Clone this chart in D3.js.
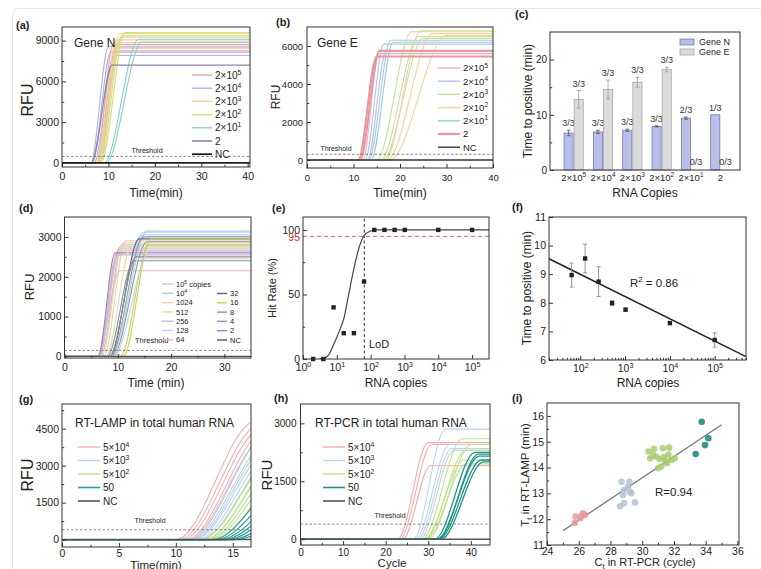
<!DOCTYPE html>
<html>
<head>
<meta charset="utf-8">
<script src="https://cdn.jsdelivr.net/npm/d3@7"></script>
<style>
body { margin: 0; background: #fff; }
svg { display: block; font-family: "Liberation Sans", Arial, sans-serif; }
</style>
</head>
<body>
<div class="vis-holder"></div>
<script>
// ---- data ----
// amplification curves: [group, onset time, time plateau is reached, plateau RFU]
var aLabels = ['2×10^5', '2×10^4', '2×10^3', '2×10^2', '2×10^1', '2', 'NC'];
var aCurves = [
  [0, 7.4, 11.0, 8700], [0, 7.7, 11.5, 8450], [0, 8.0, 12.0, 8250],
  [1, 6.2, 10.0, 8550], [1, 6.5, 10.5, 8150], [1, 6.9, 11.2, 7900],
  [2, 7.3, 11.8, 9050], [2, 7.6, 12.2, 8850], [2, 7.9, 12.6, 9250],
  [3, 7.7, 12.4, 9500], [3, 8.1, 13.0, 9350], [3, 8.4, 13.6, 9600],
  [4, 9.1, 16.5, 9100], [4, 9.5, 17.2, 8900],
  [5, 6.3, 10.8, 7200]
];
var aThreshold = 480;

var bLabels = ['2×10^5', '2×10^4', '2×10^3', '2×10^2', '2×10^1', '2', 'NC'];
var bCurves = [
  [0, 12.0, 15.5, 5600],
  [1, 12.5, 16.5, 6100], [1, 13.0, 17.0, 5700], [1, 13.3, 18.0, 6300],
  [4, 13.8, 18.5, 6200],
  [2, 15.0, 22.5, 6750], [2, 15.8, 24.0, 6500], [2, 16.3, 25.0, 6400],
  [3, 16.8, 24.5, 6800], [3, 17.3, 27.0, 6650], [3, 17.8, 30.0, 6550],
  [5, 11.0, 15.0, 5450], [5, 11.4, 15.6, 5750]
];
var bThreshold = 300;

var cCopies = ['2×10^5', '2×10^4', '2×10^3', '2×10^2', '2×10^1', '2'];
var cGeneN = [6.7, 6.9, 7.2, 7.9, 9.4, 10.0];
var cGeneNErr = [0.5, 0.3, 0.2, 0.1, 0.2, 0];
var cGeneE = [12.8, 14.6, 15.9, 18.2, 0, 0];
var cGeneEErr = [1.6, 1.7, 0.9, 0.4, 0, 0];
var cHitN = ['3/3', '3/3', '3/3', '3/3', '2/3', '1/3'];
var cHitE = ['3/3', '3/3', '3/3', '3/3', '0/3', '0/3'];

var dLabels = ['10^5 copies', '10^4', '1024', '512', '256', '128', '64', '32', '16', '8', '4', '2', 'NC'];
var dCurves = [
  [6, 6.2, 10.0, 2650], [6, 6.4, 10.5, 2750], [6, 6.1, 10.4, 2150],
  [0, 6.5, 10.2, 2700], [1, 6.8, 10.8, 2800], [2, 7.0, 11.0, 2850], [2, 7.4, 11.5, 2900],
  [4, 6.6, 9.8, 2550], [11, 6.3, 9.5, 2600],
  [3, 7.8, 12.5, 2750], [5, 8.3, 14.5, 3050], [5, 8.6, 15.0, 3120], [1, 8.8, 15.5, 3150],
  [7, 8.5, 14.0, 2950], [9, 8.7, 14.8, 3000], [9, 9.0, 15.5, 2880],
  [8, 10.5, 15.8, 2800], [8, 11.0, 16.2, 2950],
  [10, 8.0, 13.0, 2400], [10, 8.4, 13.5, 2500], [3, 9.0, 14.0, 2450], [5, 9.2, 16.0, 2650]
];
var dThreshold = 150;

var eCopies = [2, 4, 8, 16, 32, 64, 128, 256, 512, 1024, 10000, 100000];
var eHitRate = [0, 0, 40, 20, 20, 60, 100, 100, 100, 100, 100, 100];
var eFitCopies = [3, 4, 5.7, 8, 12, 16, 22, 32, 45, 64, 100, 150, 400000];
var eFitRate = [0, 0.5, 3, 11, 22, 31, 49, 70, 86, 95.5, 99.2, 100, 100];
var eLoD = 65;
var eCutoff = 95;

var fCopies = [64, 128, 256, 512, 1024, 10000, 100000];
var fTime = [8.97, 9.55, 8.74, 7.99, 7.76, 7.29, 6.70];
var fErr = [0.42, 0.5, 0.52, 0.08, 0.05, 0.05, 0.25];
var fFitCopies = [20, 500000];
var fFitTime = [9.54, 6.12];

var gLabels = ['5×10^4', '5×10^3', '5×10^2', '50', 'NC'];
var gCurves = [
  [0, 10.0, 17.0, 4800], [0, 10.3, 17.4, 4650], [0, 10.6, 17.6, 4500], [0, 10.9, 18.0, 4450], [0, 11.2, 18.2, 4300],
  [1, 11.0, 18.2, 4300], [1, 11.3, 18.5, 4100], [1, 11.6, 18.8, 3900], [1, 11.9, 19.0, 3800], [1, 12.1, 19.3, 3700], [1, 11.5, 18.6, 4000],
  [2, 12.2, 19.2, 3600], [2, 12.5, 19.5, 3400], [2, 12.8, 19.8, 3300], [2, 13.0, 20.0, 3100], [2, 12.6, 19.4, 3450], [2, 13.3, 20.5, 3000],
  [3, 13.2, 20.5, 2800], [3, 13.5, 21.0, 2600], [3, 13.8, 21.5, 2400], [3, 14.1, 22.0, 2300], [3, 14.4, 22.5, 2200], [3, 14.8, 23.0, 2000], [3, 15.2, 23.5, 1800]
];
var gThreshold = 400;

var hLabels = ['5×10^4', '5×10^3', '5×10^2', '50', 'NC'];
var hCurves = [
  [0, 22.8, 30.0, 2500], [0, 23.3, 30.8, 2450], [0, 24.0, 30.5, 1900],
  [1, 26.5, 34.0, 2850], [1, 27.0, 35.0, 2450], [1, 27.5, 35.5, 2350], [1, 28.0, 36.0, 2300],
  [2, 28.5, 38.0, 2600], [2, 29.0, 38.5, 2050], [2, 29.5, 39.0, 1950], [2, 30.0, 40.0, 2450], [2, 29.3, 38.8, 2300],
  [3, 31.5, 41.0, 2250], [3, 32.0, 42.0, 2150], [3, 32.5, 42.5, 2050], [3, 33.0, 43.0, 2000], [3, 32.3, 41.8, 2200]
];
var hThreshold = 390;

var iLabels = ['5×10^4', '5×10^3', '5×10^2', '50'];
// [group, Ct in RT-PCR, Tt in RT-LAMP]
var iPoints = [
  [0, 25.8, 12.1], [0, 26.27, 12.23], [0, 26.4, 12.17], [0, 25.75, 11.85], [0, 26.1, 12.04], [0, 26.2, 12.15],
  [1, 28.7, 13.45], [1, 29.2, 13.45], [1, 29.1, 13.26], [1, 29.25, 13.06], [1, 28.8, 12.94], [1, 28.85, 13.13],
  [1, 28.6, 12.5], [1, 28.86, 12.62], [1, 29.55, 12.65], [1, 29.3, 13.0],
  [2, 30.4, 14.62], [2, 30.75, 14.72], [2, 31.3, 14.75], [2, 31.7, 14.77], [2, 30.5, 14.36], [2, 30.9, 14.42],
  [2, 31.1, 14.33], [2, 31.45, 14.26], [2, 31.55, 14.17], [2, 31.2, 14.04], [2, 31.0, 13.97], [2, 31.85, 14.29],
  [2, 32.05, 14.36], [2, 31.65, 14.5], [2, 30.7, 14.48], [2, 31.35, 14.4],
  [3, 33.75, 15.77], [3, 34.17, 15.13], [3, 33.96, 14.87], [3, 33.37, 14.52]
];
var iFitCt = [25, 35];
var iFitTt = [11.55, 15.66];

// ---- colours ----
var aColors = ['#eaa5a5', '#b6b2e0', '#f3cba4', '#d5dc7e', '#85d2c7', '#8d86a6', '#222'];
var bColors = ['#e7b3c4', '#b3c5ec', '#c6df9c', '#efd49c', '#8fd6cd', '#e9959a', '#333'];
var dColors = ['#c9c4cf', '#b7c6db', '#f1cfae', '#d8e3a4', '#c5b8e3', '#b5d3ea', '#f0b5b5',
               '#6f5c66', '#c9cf58', '#7d98bf', '#8c8ca3', '#a67fb3', '#555'];
var gColors = ['#f2b0b0', '#b9d3ea', '#b9e08f', '#2a9d94', '#555'];
var hColors = ['#f2aaaa', '#bcd5ea', '#c3e08f', '#1f9488', '#555'];
var iColors = ['#e59a9a', '#b4c2d2', '#a9cc72', '#13877c'];

var width = 761, height = 569;
var FONT = '"Liberation Sans", Arial, sans-serif';

var svg = d3.select('div.vis-holder')
            .append('svg')
            .attr('width', width)
            .attr('height', height)
            .style('background', '#fff');

svg.append('rect')
   .attr('x', 12.5).attr('y', 8.5).attr('width', 800).attr('height', 600).attr('rx', 6)
   .attr('fill', 'none').attr('stroke', '#e4e4e4');

// text with "^" superscript, e.g. 2×10^5
function sup(sel, str, fs) {
  var parts = String(str).split('^');
  sel.text(null);
  sel.append('tspan').text(parts[0]);
  if (parts.length > 1) {
    var m = parts[1].match(/^(\d+)(.*)$/);
    sel.append('tspan').attr('dy', -fs * 0.4).attr('font-size', fs * 0.68).text(m[1]);
    if (m[2]) sel.append('tspan').attr('dy', fs * 0.4).text(m[2]);
  }
  return sel;
}

function frame(x, y, o) {
  var g = svg.append('g');
  var x0 = x.range()[0], x1 = x.range()[1], y0 = y.range()[0], y1 = y.range()[1];
  if (o.xMinor) g.append('g').attr('transform', `translate(0,${y0})`)
                 .call(d3.axisBottom(x).tickValues(o.xMinor).tickSize(-2.2).tickFormat(''));
  if (o.yMinor) g.append('g').attr('transform', `translate(${x0},0)`)
                 .call(d3.axisLeft(y).tickValues(o.yMinor).tickSize(-2.2).tickFormat(''));
  if (o.xTicks) g.append('g').attr('transform', `translate(0,${y0})`)
                 .call(d3.axisBottom(x).tickValues(o.xTicks).tickSize(-4).tickPadding(o.xPad || 5)
                       .tickFormat(o.xFormat || (d => d)));
  g.append('g').attr('transform', `translate(${x0},0)`)
   .call(d3.axisLeft(y).tickValues(o.yTicks).tickSize(-4).tickPadding(o.yPad || 3)
         .tickFormat(o.yFormat || (d => d)));
  g.selectAll('.domain').remove();
  g.selectAll('.tick line').attr('stroke', '#333');
  g.selectAll('g').attr('font-family', FONT).attr('font-size', o.fs);
  g.selectAll('.tick text').attr('fill', '#222').each(function() {
    var t = d3.select(this).text();
    if (t.indexOf('^') >= 0) sup(d3.select(this), t, o.fs);
  });
  g.append('rect').attr('x', x0).attr('y', y1).attr('width', x1 - x0).attr('height', y0 - y1)
   .attr('fill', 'none').attr('stroke', '#333').attr('stroke-width', 1);
  return g;
}

function clipGroup(id, x, y) {
  svg.append('clipPath').attr('id', id).append('rect')
     .attr('x', x.range()[0]).attr('y', y.range()[1])
     .attr('width', x.range()[1] - x.range()[0]).attr('height', y.range()[0] - y.range()[1]);
  return svg.append('g').attr('clip-path', `url(#${id})`);
}

function panelLabel(t, x, y) {
  svg.append('text').attr('x', x).attr('y', y).attr('font-size', 11).attr('font-weight', 'bold')
     .attr('fill', '#222').text(t);
}
function yLabel(t, x, y, fs) {
  return svg.append('text').attr('transform', `translate(${x},${y})rotate(-90)`)
            .attr('text-anchor', 'middle').attr('dy', '0.35em')
            .attr('font-size', fs).attr('fill', '#222').text(t);
}
function xLabel(t, x, y, fs) {
  return svg.append('text').attr('x', x).attr('y', y).attr('text-anchor', 'middle')
            .attr('font-size', fs).attr('fill', '#222').text(t);
}
function note(t, x, y, fs, anchor) {
  return svg.append('text').attr('x', x).attr('y', y).attr('text-anchor', anchor || 'start')
            .attr('font-size', fs).attr('fill', '#222').text(t);
}

function ampCurves(id, x, y, curves, colors, widths, threshold, ncWidth) {
  var g = clipGroup(id, x, y);
  var xmax = x.domain()[1];
  var line = d3.line().x(d => x(d[0])).y(d => y(d[1])).curve(d3.curveMonotoneX);
  g.selectAll('path.amp')
   .data(curves)
   .enter()
   .append('path')
   .attr('class', 'amp')
   .attr('fill', 'none')
   .attr('stroke', d => colors[d[0]])
   .attr('stroke-width', d => widths[d[0]] || 1.1)
   .attr('d', d => line([[0, 0], [d[1], 0], [d[2], d[3]], [Math.max(xmax, d[2]) + 2, d[3]]]));
  g.append('path').attr('d', line([[0, 0], [xmax, 0]]))
   .attr('fill', 'none').attr('stroke', colors[colors.length - 1]).attr('stroke-width', ncWidth);
  g.append('line')
   .attr('x1', x(0)).attr('x2', x(xmax)).attr('y1', y(threshold)).attr('y2', y(threshold))
   .attr('stroke', '#555').attr('stroke-width', 0.7).attr('stroke-dasharray', '2.5,2');
  return g;
}

function legend(labels, colors, widths, x, y, dy, len, fs) {
  labels.forEach(function(l, i) {
    var yy = y + i * dy;
    svg.append('line').attr('x1', x).attr('x2', x + len).attr('y1', yy).attr('y2', yy)
       .attr('stroke', colors[i]).attr('stroke-width', widths[i] || 1.4);
    var t = svg.append('text').attr('x', x + len + 3).attr('y', yy).attr('dy', '0.35em')
               .attr('font-size', fs).attr('fill', '#222');
    sup(t, l, fs);
  });
}

// ---------- (a) ----------
var ax = d3.scaleLinear().domain([0, 40.5]).range([62, 250]);
var ay = d3.scaleLinear().domain([-300, 10000]).range([167, 27]);
ampCurves('clipA', ax, ay, aCurves, aColors, {5: 1.3}, aThreshold, 1.8);
frame(ax, ay, {xTicks: [0, 10, 20, 30, 40], xMinor: [5, 15, 25, 35],
               yTicks: [0, 3000, 6000, 9000], yMinor: [1500, 4500, 7500], fs: 10.5, xPad: 6});
panelLabel('(a)', 16, 29);
yLabel('RFU', 27, 100, 16);
xLabel('Time(min)', 156, 197, 12);
note('Gene N', 74, 47, 12);
note('Threshold', 147, 153, 7, 'middle');
legend(aLabels, aColors, {5: 1.6, 6: 1.8}, 192, 75, 13.2, 20, 10);

// ---------- (b) ----------
var bx = d3.scaleLinear().domain([0, 40]).range([307, 493]);
var by = d3.scaleLinear().domain([-420, 7000]).range([168, 27]);
ampCurves('clipB', bx, by, bCurves, bColors, {5: 1.9}, bThreshold, 1.4);
frame(bx, by, {xTicks: [0, 10, 20, 30, 40], xMinor: [5, 15, 25, 35],
               yTicks: [0, 2000, 4000, 6000], yMinor: [1000, 3000, 5000], fs: 9.5, xPad: 6, yPad: 4});
panelLabel('(b)', 276, 26);
yLabel('RFU', 276, 97, 12);
xLabel('Time(min)', 400, 197, 12);
note('Gene E', 317, 47, 12);
note('Threshold', 336, 151, 7, 'middle');
legend(bLabels, bColors, {5: 2.2, 6: 1.4}, 438, 68, 13.2, 22, 9.5);

// ---------- (c) ----------
var cx = d3.scaleBand().domain(cCopies).range([559, 735]);
var cSub = d3.scaleBand().domain(['Gene N', 'Gene E']).range([0, cx.bandwidth()])
             .paddingInner(0.1).paddingOuter(0.5);
var cy = d3.scaleLinear().domain([0, 25]).range([170, 32]);
var cFrameX = d3.scaleLinear().range([550, 740]);
var cRows = cCopies.map(function(c, i) {
  return {c: c, n: cGeneN[i], nErr: cGeneNErr[i], e: cGeneE[i], eErr: cGeneEErr[i], hn: cHitN[i], he: cHitE[i]};
});
var cSeries = [
  {key: 'Gene N', v: 'n', err: 'nErr', hit: 'hn', fill: '#b9bfe9', stroke: '#6f78b8', ebar: '#555'},
  {key: 'Gene E', v: 'e', err: 'eErr', hit: 'he', fill: '#dcdcdc', stroke: '#a6a6a6', ebar: '#999'}
];
cSeries.forEach(function(s) {
  var g = svg.append('g');
  var bars = cRows.filter(d => d[s.v] > 0);
  g.selectAll('rect').data(bars).enter().append('rect')
   .attr('x', d => cx(d.c) + cSub(s.key))
   .attr('y', d => cy(d[s.v]))
   .attr('width', cSub.bandwidth())
   .attr('height', d => cy(0) - cy(d[s.v]))
   .attr('fill', s.fill).attr('stroke', s.stroke).attr('stroke-width', 0.8);
  var mid = d => cx(d.c) + cSub(s.key) + cSub.bandwidth() / 2;
  g.selectAll('line.eb').data(bars.filter(d => d[s.err] > 0)).enter().append('path')
   .attr('d', d => `M${mid(d)},${cy(d[s.v] - d[s.err])}V${cy(d[s.v] + d[s.err])}` +
                   `M${mid(d) - 2},${cy(d[s.v] + d[s.err])}h4M${mid(d) - 2},${cy(d[s.v] - d[s.err])}h4`)
   .attr('stroke', s.ebar).attr('stroke-width', 0.8).attr('fill', 'none');
  g.selectAll('text').data(cRows).enter().append('text')
   .attr('x', mid)
   .attr('y', d => d[s.v] > 0 ? cy(d[s.v] + d[s.err]) - 4 : cy(0) - 5)
   .attr('text-anchor', 'middle').attr('font-size', 9).attr('fill', '#333')
   .text(d => d[s.hit]);
});
var cAxis = svg.append('g').attr('transform', `translate(0,${cy(0)})`)
               .call(d3.axisBottom(cx).tickSize(0).tickPadding(4));
cAxis.select('.domain').remove();
cAxis.attr('font-family', FONT).attr('font-size', 9.5);
cAxis.selectAll('.tick text').attr('fill', '#222').each(function(d) { sup(d3.select(this), d, 9.5); });
frame(cFrameX, cy, {yTicks: [0, 10, 20], yMinor: [5, 15], fs: 10});
panelLabel('(c)', 515, 18);
yLabel('Time to positive (min)', 528, 101, 12);
xLabel('RNA Copies', 645, 197, 12);
cSeries.forEach(function(s, i) {
  svg.append('rect').attr('x', 680).attr('y', 39 + i * 10).attr('width', 14).attr('height', 6)
     .attr('fill', s.fill).attr('stroke', s.stroke).attr('stroke-width', 0.8);
  note(s.key, 699, 45 + i * 10, 9);
});

// ---------- (d) ----------
var dx = d3.scaleLinear().domain([0, 35]).range([64.5, 251]);
var dy = d3.scaleLinear().domain([-40, 3500]).range([358, 217]);
ampCurves('clipD', dx, dy, dCurves, dColors, {}, dThreshold, 1.4);
frame(dx, dy, {xTicks: [0, 10, 20, 30], xMinor: [5, 15, 25],
               yTicks: [0, 1000, 2000, 3000], yMinor: [500, 1500, 2500], fs: 10.5, xPad: 6});
panelLabel('(d)', 19, 212);
yLabel('RFU', 29, 287, 13);
xLabel('Time (min)', 156, 387, 12);
note('Threshold', 135, 343, 7.5);
legend(dLabels.slice(0, 7), dColors.slice(0, 7), {}, 162, 284, 9.3, 11, 7.5);
legend(dLabels.slice(7), dColors.slice(7), {}, 217, 293.5, 9.3, 10, 7.5);

// ---------- (e) ----------
var ex = d3.scaleLog().domain([1, Math.pow(10, 5.5)]).range([303, 489]);
var ey = d3.scaleLinear().domain([0, 110]).range([359, 217]);
var eg = clipGroup('clipE', ex, ey);
eg.append('line').attr('x1', ex.range()[0]).attr('x2', ex.range()[1])
  .attr('y1', ey(eCutoff)).attr('y2', ey(eCutoff))
  .attr('stroke', '#d06a6a').attr('stroke-width', 1).attr('stroke-dasharray', '4,3');
eg.append('line').attr('x1', ex(eLoD)).attr('x2', ex(eLoD)).attr('y1', ey(0)).attr('y2', ey(110))
  .attr('stroke', '#444').attr('stroke-width', 1.1).attr('stroke-dasharray', '3,2.5');
eg.append('path')
  .datum(eFitCopies.map((c, i) => [c, eFitRate[i]]))
  .attr('d', d3.line().x(d => ex(d[0])).y(d => ey(d[1])).curve(d3.curveMonotoneX))
  .attr('fill', 'none').attr('stroke', '#444').attr('stroke-width', 1.2);
svg.append('g').selectAll('rect').data(eCopies).enter().append('rect')
   .attr('x', (d) => ex(d) - 2.2).attr('y', (d, i) => ey(eHitRate[i]) - 2.2)
   .attr('width', 4.4).attr('height', 4.4).attr('fill', '#222');
frame(ex, ey, {xTicks: [1, 10, 100, 1000, 10000, 100000], xFormat: d => '10^' + Math.round(Math.log10(d)),
               yTicks: [0, 50, 100], yMinor: [25, 75], fs: 10.5, xPad: 5});
svg.append('text').attr('x', 300).attr('y', ey(eCutoff) + 1).attr('dy', '0.35em')
   .attr('text-anchor', 'end').attr('font-size', 10.5).attr('fill', '#c0392b').text(eCutoff);
panelLabel('(e)', 272, 212);
yLabel('Hit Rate (%)', 272, 288, 11);
xLabel('RNA copies', 396, 387, 12);
note('LoD', 369, 348, 11);

// ---------- (f) ----------
var fx = d3.scaleLog().domain([20, 500000]).range([549, 746]);
var fy = d3.scaleLinear().domain([6, 11]).range([360, 217]);
var fMinor = [];
[10, 100, 1000, 10000, 100000].forEach(function(p) {
  for (var k = 2; k <= 9; k++) if (p * k >= 20 && p * k <= 500000) fMinor.push(p * k);
});
svg.append('path')
   .datum(fFitCopies.map((c, i) => [c, fFitTime[i]]))
   .attr('d', d3.line().x(d => fx(d[0])).y(d => fy(d[1])))
   .attr('stroke', '#222').attr('stroke-width', 1.5).attr('fill', 'none');
var fg = svg.append('g');
fg.selectAll('path').data(fCopies).enter().append('path')
  .attr('d', (d, i) => `M${fx(d)},${fy(fTime[i] - fErr[i])}V${fy(fTime[i] + fErr[i])}` +
                        `M${fx(d) - 2},${fy(fTime[i] + fErr[i])}h4M${fx(d) - 2},${fy(fTime[i] - fErr[i])}h4`)
  .attr('stroke', '#888').attr('stroke-width', 0.9).attr('fill', 'none');
fg.selectAll('rect').data(fCopies).enter().append('rect')
  .attr('x', d => fx(d) - 2.2).attr('y', (d, i) => fy(fTime[i]) - 2.2)
  .attr('width', 4.4).attr('height', 4.4).attr('fill', '#222');
frame(fx, fy, {xTicks: [100, 1000, 10000, 100000], xMinor: fMinor,
               xFormat: d => '10^' + Math.round(Math.log10(d)),
               yTicks: [6, 7, 8, 9, 10, 11], fs: 10.5, xPad: 5});
panelLabel('(f)', 512, 211);
yLabel('Time to positive (min)', 527, 288, 12);
xLabel('RNA copies', 648, 387, 12);
sup(note('', 630, 287, 11.5), 'R^2 = 0.86', 11.5);

// ---------- (g) ----------
var gx = d3.scaleLinear().domain([0, 16.6]).range([62, 251]);
var gy = d3.scaleLinear().domain([-300, 5500]).range([547, 404]);
ampCurves('clipG', gx, gy, gCurves, gColors, {3: 1.2}, gThreshold, 1.5);
frame(gx, gy, {xTicks: [0, 5, 10, 15], xMinor: [2.5, 7.5, 12.5],
               yTicks: [0, 1500, 3000, 4500], yMinor: [750, 2250, 3750, 5250], fs: 10.5, xPad: 3});
panelLabel('(g)', 19, 403);
yLabel('RFU', 27, 475, 16);
xLabel('Time(min)', 156, 568.5, 11.5);
note('RT-LAMP in total human RNA', 75, 427, 12);
note('Threshold', 150, 523, 7, 'middle');
legend(gLabels, gColors, {3: 1.6, 4: 1.6}, 78, 447, 13.5, 22, 10);

// ---------- (h) ----------
var hx = d3.scaleLinear().domain([0, 44.5]).range([300.5, 490]);
var hy = d3.scaleLinear().domain([-150, 3500]).range([545, 404]);
ampCurves('clipH', hx, hy, hCurves, hColors, {3: 1.3}, hThreshold, 1.5);
frame(hx, hy, {xTicks: [0, 10, 20, 30, 40], xMinor: [5, 15, 25, 35],
               yTicks: [0, 1500, 3000], yMinor: [750, 2250], fs: 10, xPad: 4, yPad: 4});
panelLabel('(h)', 274, 402);
yLabel('RFU', 267, 475, 15);
xLabel('Cycle', 392, 567, 11.5);
note('RT-PCR in total human RNA', 315, 427, 12);
note('Threshold', 390, 518, 7, 'middle');
legend(hLabels, hColors, {3: 1.6, 4: 1.6}, 323, 447, 13.5, 22, 10);

// ---------- (i) ----------
var ix = d3.scaleLinear().domain([24, 36.1]).range([547, 739]);
var iy = d3.scaleLinear().domain([11, 16.5]).range([545, 403]);
svg.append('path')
   .datum(iFitCt.map((c, i) => [c, iFitTt[i]]))
   .attr('d', d3.line().x(d => ix(d[0])).y(d => iy(d[1])))
   .attr('stroke', '#777').attr('stroke-width', 1.3).attr('fill', 'none');
svg.append('g').selectAll('circle').data(iPoints).enter().append('circle')
   .attr('cx', d => ix(d[1])).attr('cy', d => iy(d[2])).attr('r', 3.3)
   .attr('fill', d => iColors[d[0]]).attr('fill-opacity', 0.85);
frame(ix, iy, {xTicks: [24, 26, 28, 30, 32, 34, 36], xMinor: [25, 27, 29, 31, 33, 35],
               yTicks: [11, 12, 13, 14, 15, 16], yMinor: [11.5, 12.5, 13.5, 14.5, 15.5], fs: 10.5, xPad: 3});
panelLabel('(i)', 512, 402);
var iyl = yLabel('', 525, 475, 11.5);
iyl.append('tspan').text('T');
iyl.append('tspan').attr('dy', 3).attr('font-size', 8).text('t');
iyl.append('tspan').attr('dy', -3).text(' in RT-LAMP (min)');
var ixl = xLabel('', 645, 566, 11);
ixl.append('tspan').text('C');
ixl.append('tspan').attr('dy', 2.5).attr('font-size', 7.5).text('t');
ixl.append('tspan').attr('dy', -2.5).text(' in RT-PCR (cycle)');
note('R=0.94', 655, 496, 11.5);
</script>
</body>
</html>
